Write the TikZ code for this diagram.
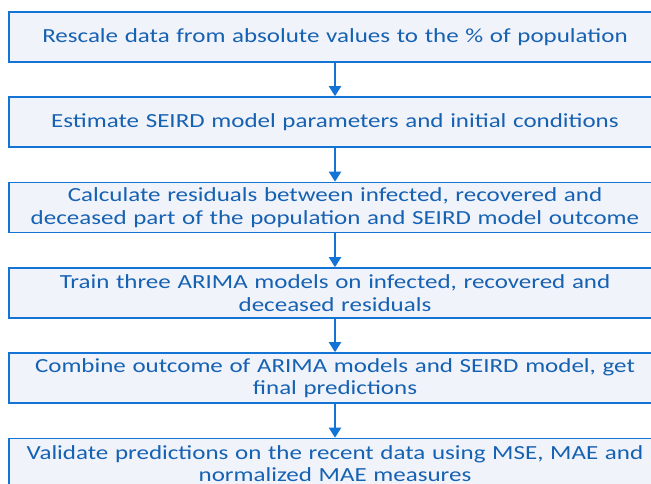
\documentclass[tikz,border=0pt]{standalone}
\usepackage{fontspec}
\setmainfont{Carlito}[FakeStretch=1.25]
\usetikzlibrary{positioning,arrows.meta}
\definecolor{stepline}{HTML}{1474D6}
\definecolor{stepfill}{HTML}{F1F3FB}
\definecolor{steptext}{HTML}{1561B2}

\begin{document}
\begin{tikzpicture}[x=1pt,y=1pt,
    stepbox/.style={draw=stepline,line width=1.6pt,fill=stepfill,text=steptext,
        minimum width=652pt,minimum height=50pt,text width=645pt,align=center,
        inner sep=2pt,font=\fontsize{20}{22.5}\selectfont},
    flow/.style={draw=stepline,line width=2pt,-{Triangle[width=12pt,length=10pt]}}]

            \useasboundingbox (0,0) rectangle (651,-484);
            \fill[white] (0,0) rectangle (651,-484);

            \node[stepbox] (rescale) at (335,-37) {Rescale data from absolute values to the \% of population};
            \node[stepbox] (estimate) at (335,-122) {Estimate SEIRD model parameters and initial conditions};
            \node[stepbox] (resid) at (335,-207.5) {Calculate residuals between infected, recovered and\\deceased part of the population and SEIRD model outcome};
            \node[stepbox] (train) at (335,-293) {Train three ARIMA models on infected, recovered and\\deceased residuals};
            \node[stepbox] (combine) at (335,-378) {Combine outcome of ARIMA models and SEIRD model, get\\final predictions};
            \node[stepbox] (validate) at (335,-463.5) {Validate predictions on the recent data using MSE, MAE and\\normalized MAE measures};

            \draw[flow] (rescale) -- (estimate);
            \draw[flow] (estimate) -- (resid);
            \draw[flow] (resid) -- (train);
            \draw[flow] (train) -- (combine);
            \draw[flow] (combine) -- (validate);

        \end{tikzpicture}
\end{document}
